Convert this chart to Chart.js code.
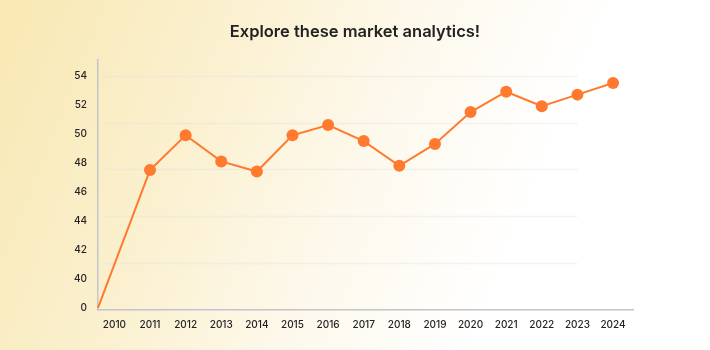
<!DOCTYPE html>
<html>
<head>
<meta charset="utf-8">
<script src="https://cdn.jsdelivr.net/npm/chart.js@4.4.1/dist/chart.umd.min.js"></script>
<style>
  html, body {
    margin: 0;
    padding: 0;
  }
  body {
    width: 710px;
    height: 350px;
    background: linear-gradient(112deg, #f8e8b2 0%, #fbf1d2 30%, #fdf9ee 52%, #ffffff 72%);
  }
  #wrap {
    width: 710px;
    height: 350px;
  }
</style>
</head>
<body>
<div id="wrap"><canvas id="marketChart"></canvas></div>
<script>
// years on the x axis
const years = [2010, 2011, 2012, 2013, 2014, 2015, 2016, 2017, 2018, 2019, 2020, 2021, 2022, 2023, 2024];
// market value per year
const values = [0, 47.5, 49.9, 48.1, 47.4, 49.9, 50.6, 49.5, 47.8, 49.3, 51.5, 52.9, 51.9, 52.7, 53.5];
// y axis tick labels (axis is broken between 0 and 40)
const yTicks = [0, 40, 42, 44, 46, 48, 50, 52, 54];

// where the 0 tick sits on the broken axis
const BREAK_AT = 38;
const X_MIN = 2009.54;
const X_MAX = 2024.56;

function toAxis(v) {
  return v === 0 ? BREAK_AT : v;
}

// series points; the 0 value starts from the axis origin
const points = [];
for (let i = 0; i < years.length; i++) {
  points.push({ x: values[i] === 0 ? X_MIN : years[i], y: toAxis(values[i]) });
}

// faint background lines, evenly spaced between the x axis and the top tick
const softGrid = {
  id: "softGrid",
  beforeDatasetsDraw(chart) {
    const ctx = chart.ctx;
    const area = chart.chartArea;
    const yScale = chart.scales.y;
    const xScale = chart.scales.x;
    const top = yScale.getPixelForValue(yTicks[yTicks.length - 1]);
    const bottom = area.bottom;
    const right = xScale.getPixelForValue(years[years.length - 2]);
    const lines = 5;
    ctx.save();
    ctx.strokeStyle = "rgba(220, 220, 230, 0.3)";
    ctx.lineWidth = 1.5;
    for (let i = 1; i <= lines; i++) {
      const y = Math.round(bottom - (bottom - top) * i / lines) + 0.5;
      ctx.beginPath();
      ctx.moveTo(area.left + 4, y);
      ctx.lineTo(right, y);
      ctx.stroke();
    }
    ctx.restore();
  }
};

const ctx = document.getElementById("marketChart");

new Chart(ctx, {
  type: "line",
  data: {
    datasets: [
      {
        data: points,
        borderColor: "#ff7a2f",
        backgroundColor: "#ff7a2f",
        borderWidth: 2,
        pointRadius: (c) => (values[c.dataIndex] === 0 ? 0 : 6),
        pointHoverRadius: 6,
        pointBorderWidth: 0,
        tension: 0,
        clip: false
      }
    ]
  },
  options: {
    responsive: true,
    maintainAspectRatio: false,
    animation: false,
    plugins: {
      legend: { display: false },
      tooltip: { enabled: false },
      title: {
        display: true,
        text: "Explore these market analytics!",
        color: "#222222",
        font: { family: "Inter", size: 16.5, weight: "600" },
        padding: { top: 22, bottom: 18 }
      }
    },
    scales: {
      x: {
        type: "linear",
        min: X_MIN,
        max: X_MAX,
        afterBuildTicks(scale) {
          scale.ticks = years.map((y) => ({ value: y }));
        },
        afterFit(scale) {
          scale.height = 40;
        },
        ticks: {
          autoSkip: false,
          maxRotation: 0,
          padding: 9,
          color: "#222222",
          font: { family: "Inter", size: 10, weight: "500" },
          callback: (v) => String(v)
        },
        grid: { display: false, drawTicks: false },
        border: { display: true, color: "#c4c4cc", width: 1.5 }
      },
      y: {
        type: "linear",
        min: 37.86,
        max: 55.1,
        afterBuildTicks(scale) {
          scale.ticks = yTicks.map((t) => ({ value: toAxis(t) }));
        },
        afterFit(scale) {
          scale.width = 98;
        },
        ticks: {
          padding: 11,
          color: "#222222",
          font: { family: "Inter", size: 10, weight: "500" },
          callback: (v) => (v === BREAK_AT ? "0" : String(v))
        },
        grid: { display: false, drawTicks: false },
        border: { display: true, color: "#c4c4cc", width: 1.5 }
      },
      // empty right-hand axis that keeps the plot clear of the right edge
      spacer: {
        type: "linear",
        position: "right",
        afterFit(scale) {
          scale.width = 77;
        },
        ticks: { display: false },
        grid: { display: false, drawTicks: false },
        border: { display: false }
      }
    }
  },
  plugins: [softGrid]
});
</script>
</body>
</html>
